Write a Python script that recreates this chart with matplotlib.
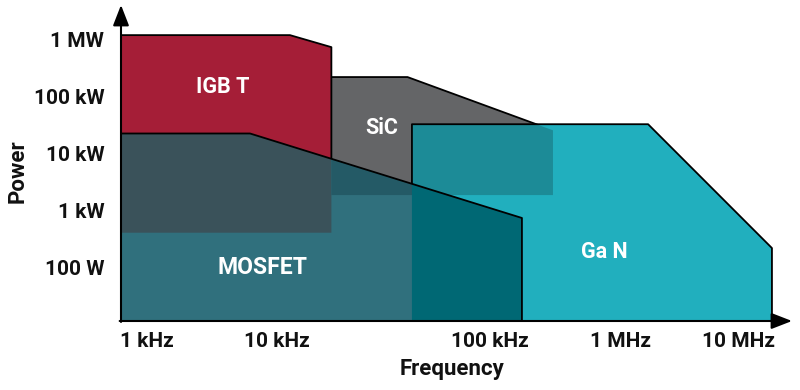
import numpy as np
import matplotlib
matplotlib.use("Agg")
import matplotlib.pyplot as plt
from matplotlib.patches import Polygon

plt.rcParams['font.family'] = ['Roboto', 'DejaVu Sans']

# ---------------- data ----------------
freq_ticks = [1e3, 1e4, 1e5, 1e6, 1e7]
freq_labels = ["1 kHz", "10 kHz", "100 kHz", "1 MHz", "10 MHz"]
power_ticks = [1e2, 1e3, 1e4, 1e5, 1e6]
power_labels = ["100 W", "1 kW", "10 kW", "100 kW", "1 MW"]

# region outlines (frequency in Hz, power in W)
igbt_f = [630, 11.5e3, 18e3, 18e3, 630]
igbt_p = [1.17e6, 1.17e6, 7.2e5, 400, 400]

sic_f = [18e3, 41e3, 305e3, 305e3, 18e3]
sic_p = [2.15e5, 2.15e5, 2.5e4, 1.83e3, 1.83e3]

gan_f = [43e3, 1.73e6, 19.4e6, 19.4e6, 43e3]
gan_p = [3.2e4, 3.2e4, 215, 11.3, 11.3]

mosfet_f = [630, 6.2e3, 176e3, 176e3, 630]
mosfet_p = [2.2e4, 2.2e4, 725, 11.3, 11.3]

f_range = [630, 28.7e6]
p_range = [11.3, 3.95e6]

# ---------------- schematic frequency scale ----------------
_L = np.array([2.8, 3.0, 4.0, 5.0, 6.0, 7.0, 7.458])
_P = np.array([121, 147, 277, 490, 620, 738, 792], dtype=float)

def fwd(f):
    f = np.clip(np.asarray(f, dtype=float), 1e-3, None)
    return np.interp(np.log10(f), _L, _P)

def inv(p):
    return 10 ** np.interp(np.asarray(p, dtype=float), _P, _L)

W, H = 800, 390
fig = plt.figure(figsize=(W / 100, H / 100), dpi=100)
ax = fig.add_axes([121 / W, (H - 321) / H, (792 - 121) / W, (321 - 5) / H])
ax.set_xscale('function', functions=(fwd, inv))
ax.set_yscale('log')
ax.set_xlim(*f_range)
ax.set_ylim(*p_range)

C_IGBT = '#A51E37'
C_SIC = '#646567'
C_GAN = '#21AFBE'
C_GAN_SIC = '#1C8B97'
C_MOS = '#30707D'
C_MOS_IGBT = '#3A525A'
C_MOS_SIC = '#245A66'
C_MOS_GAN = '#006874'
LW = 1.3

def clip_poly(fs, ps):
    return Polygon(np.column_stack([fs, ps]), closed=True, transform=ax.transData)

z = 1
# SiC
ax.fill(sic_f, sic_p, color=C_SIC, lw=0, zorder=z)
ax.plot(sic_f[:3], sic_p[:3], color='black', lw=LW, zorder=z)
# GaN
z += 1
ax.fill(gan_f, gan_p, color=C_GAN, lw=0, zorder=z)
pg = ax.fill(gan_f, gan_p, color=C_GAN_SIC, lw=0, zorder=z)[0]
pg.set_clip_path(clip_poly(sic_f, sic_p))
ax.plot([gan_f[4]] + gan_f[:4], [gan_p[4]] + gan_p[:4], color='black', lw=LW, zorder=z)
# IGBT
z += 1
ax.fill(igbt_f, igbt_p, color=C_IGBT, lw=0, zorder=z)
ax.plot(igbt_f[:4], igbt_p[:4], color='black', lw=LW, zorder=z)
# MOSFET
z += 1
ax.fill(mosfet_f, mosfet_p, color=C_MOS, lw=0, zorder=z)
for cf, cp, col in [(igbt_f, igbt_p, C_MOS_IGBT), (sic_f, sic_p, C_MOS_SIC), (gan_f, gan_p, C_MOS_GAN)]:
    pm = ax.fill(mosfet_f, mosfet_p, color=col, lw=0, zorder=z)[0]
    pm.set_clip_path(clip_poly(cf, cp))
ax.plot(mosfet_f[:4], mosfet_p[:4], color='black', lw=LW, zorder=z)

# region labels
lab_kw = dict(color='white', fontweight='bold', ha='center', va='center', zorder=10)
ax.text(3.8e3, 1.44e5, "IGB T", fontsize=15.5, **lab_kw)
ax.text(31e3, 2.75e4, "SiC", fontsize=15.5, **lab_kw)
ax.text(7.7e3, 100, "MOSFET", fontsize=16.5, **lab_kw)
ax.text(754e3, 183, "Ga N", fontsize=15.5, **lab_kw)

# axes styling
for s in ax.spines.values():
    s.set_visible(False)
ax.set_xticks(freq_ticks)
ax.set_xticklabels(freq_labels)
ax.set_yticks(power_ticks)
ax.set_yticklabels(power_labels)
ax.minorticks_off()
ax.tick_params(axis='x', length=0, pad=8.0, labelsize=15)
ax.tick_params(axis='y', length=0, pad=12, labelsize=15)
for lab in ax.get_xticklabels() + ax.get_yticklabels():
    lab.set_fontweight('bold')
    lab.set_color('#111111')

arrow_kw = dict(arrowstyle='-|>,head_length=0.9,head_width=0.35', color='black', lw=1.5,
                shrinkA=0, shrinkB=0, mutation_scale=14)
ax.annotate('', xy=(0, 1), xytext=(0, -0.003), xycoords='axes fraction',
            arrowprops=arrow_kw, annotation_clip=False, zorder=20)
ax.annotate('', xy=(1, 0), xytext=(-0.002, 0), xycoords='axes fraction',
            arrowprops=arrow_kw, annotation_clip=False, zorder=20)

fig.text(18 / W, 1 - 171 / H, "Power", rotation=90, fontsize=16, fontweight='bold',
         ha='center', va='center', color='#111111')
fig.text(452 / W, 1 - 369 / H, "Frequency", fontsize=16, fontweight='bold',
         ha='center', va='center', color='#111111')

fig.savefig('out.png', dpi=100)
